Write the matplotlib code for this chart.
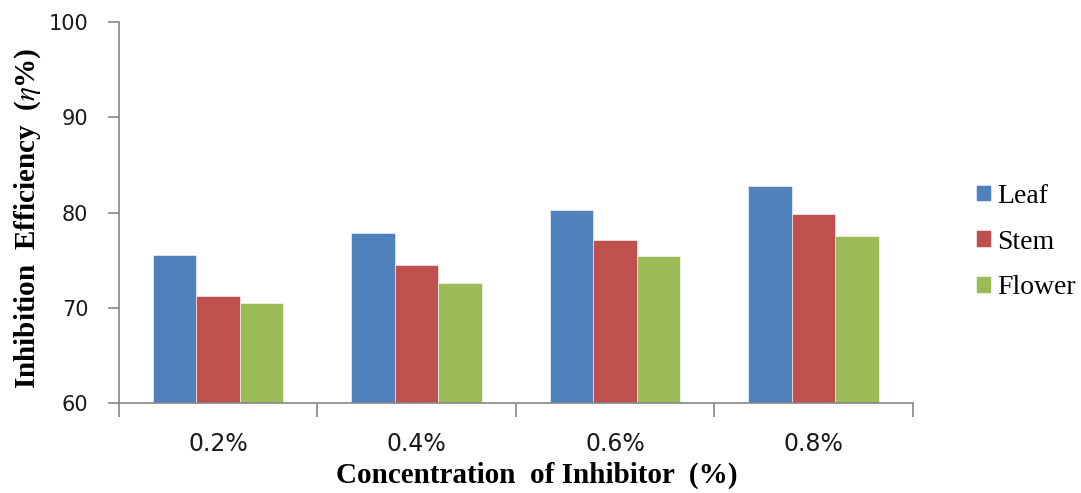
import matplotlib.pyplot as plt
import numpy as np

categories = ['0.2%', '0.4%', '0.6%', '0.8%']
series_names = ['Leaf', 'Stem', 'Flower']
leaf = [75.6, 77.9, 80.3, 82.8]
stem = [71.3, 74.5, 77.1, 79.8]
flower = [70.5, 72.6, 75.4, 77.5]
colors = ['#4F81BD', '#C0504D', '#9BBB59']

plt.rcParams['mathtext.fontset'] = 'stix'

fig = plt.figure(figsize=(10.81, 4.93), dpi=100)
ax = fig.add_axes([0.110, 0.182, 0.7345, 0.7736])

x = np.arange(len(categories))
w = 0.219
for i, (vals, name) in enumerate(zip([leaf, stem, flower], series_names)):
    ax.bar(x + (i - 1) * w, np.array(vals) - 60, w, bottom=60, color=colors[i],
           edgecolor='white', linewidth=0.4, label=name, zorder=2)

ax.set_xlim(-0.5, 3.5)
ax.set_ylim(60, 100)
ax.set_yticks([60, 70, 80, 90, 100])

# boundary ticks without labels, labels centred under groups
ax.set_xticks(np.arange(-0.5, 4, 1))
ax.set_xticklabels([])
ax.set_xticks(x, minor=True)
ax.set_xticklabels(categories, minor=True)
ax.tick_params(axis='x', which='major', length=10, width=1.2, color='#868686')
ax.tick_params(axis='x', which='minor', length=0, pad=21, labelsize=17)
ax.tick_params(axis='y', length=8, width=1.2, color='#868686', pad=14, labelsize=15)
for lab in ax.get_xticklabels(minor=True) + ax.get_yticklabels():
    lab.set_color('#1a1a1a')

for s in ['top', 'right']:
    ax.spines[s].set_visible(False)
for s in ['left', 'bottom']:
    ax.spines[s].set_color('#868686')
    ax.spines[s].set_linewidth(1.2)

fig.text(537 / 1081, 1 - 475 / 493, 'Concentration  of Inhibitor  (%)',
         ha='center', va='center', fontsize=21, fontweight='bold', family='Liberation Serif')
fig.text(28 / 1081, 1 - 218 / 493, r'Inhibition  Efficiency  ($\eta$%)',
         ha='center', va='center', rotation=90, fontsize=21, fontweight='bold',
         family='Liberation Serif')

ax.legend(loc='center left', bbox_to_anchor=(0.903, 0.509), bbox_transform=fig.transFigure,
          frameon=False, prop={'family': 'Liberation Serif', 'size': 20},
          handlelength=0.55, handleheight=0.55, handletextpad=0.2,
          labelspacing=0.75, borderpad=0, borderaxespad=0)

fig.savefig('out.png', dpi=100)
